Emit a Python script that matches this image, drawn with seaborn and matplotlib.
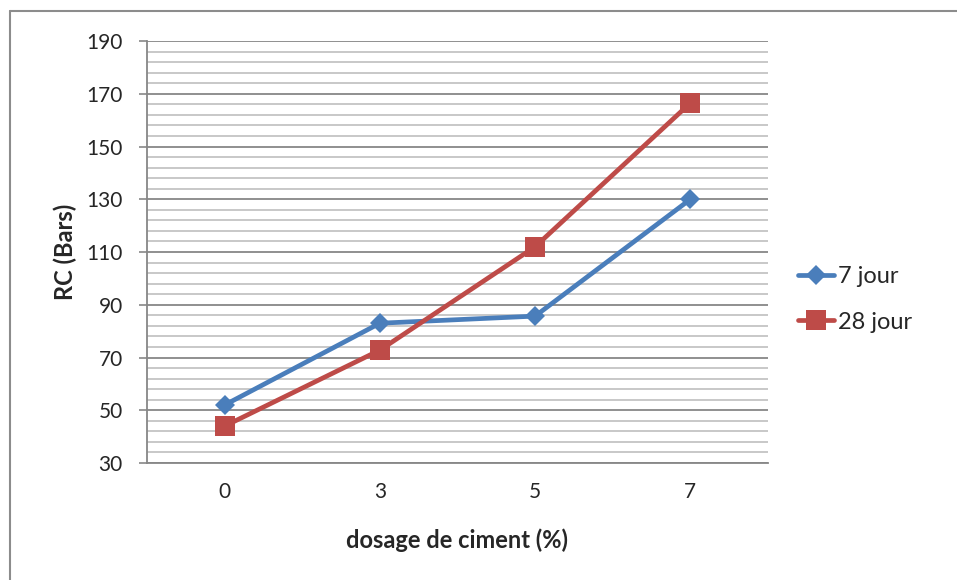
import matplotlib
matplotlib.use("Agg")
import matplotlib.pyplot as plt
import seaborn as sns
import pandas as pd
import numpy as np
from matplotlib.lines import Line2D

categories = ["0", "3", "5", "7"]
jour7 = [52, 83, 85.7, 130]
jour28 = [44, 72.8, 112, 166.5]
series_names = ["7 jour", "28 jour"]
y_ticks = [30, 50, 70, 90, 110, 130, 150, 170, 190]

sns.set_theme(style="white")
plt.rcParams['font.family'] = ['Lato', 'DejaVu Sans']

df = pd.DataFrame({
    "pos": list(range(len(categories))) * 2,
    "value": jour7 + jour28,
    "serie": [series_names[0]] * 4 + [series_names[1]] * 4,
})

fig = plt.figure(figsize=(9.57, 5.8), dpi=100)
ax = fig.add_axes([0.1536, 0.2017, 0.8025 - 0.1536, 0.9293 - 0.2017])

# gridlines
for v in np.arange(30, 190.1, 4):
    major = (v - 30) % 20 == 0
    ax.axhline(v, color="#878787" if major else "#BFBFBF", lw=1.3 if major else 1.2, zorder=0)

colors = {"7 jour": "#4A7EBB", "28 jour": "#BE4B48"}
markers = {"7 jour": "D", "28 jour": "s"}
sizes = {"7 jour": 10.5, "28 jour": 14}
for name in series_names:
    sub = df[df.serie == name]
    sns.lineplot(data=sub, x="pos", y="value", ax=ax, color=colors[name], lw=3.4,
                 marker=markers[name], markersize=sizes[name], markeredgewidth=0,
                 legend=False, zorder=3)

ax.set_xlim(-0.5, len(categories) - 0.5)
ax.set_ylim(30, 190)
ax.set_yticks(y_ticks)
ax.set_yticklabels([str(t) for t in y_ticks], fontsize=15)
ax.set_xticks(range(len(categories)))
ax.set_xticklabels(categories, fontsize=15)
ax.tick_params(axis="y", which="major", length=5.5, width=1.2, color="#878787", left=True, pad=12)
ax.tick_params(axis="x", length=0, pad=14)
for s in ["top", "right"]:
    ax.spines[s].set_visible(False)
ax.spines["left"].set_color("#878787")
ax.spines["left"].set_linewidth(1.3)
ax.spines["bottom"].set_color("#878787")
ax.spines["bottom"].set_linewidth(1.3)

ax.set_xlabel("dosage de ciment (%)", fontsize=17, fontweight="bold", labelpad=19)
ax.set_ylabel("RC (Bars)", fontsize=17, fontweight="bold", labelpad=7)

handles = [Line2D([0], [0], color=colors[n], lw=3.4, marker=markers[n],
                  markersize=sizes[n], markeredgewidth=0) for n in series_names]
fig.legend(handles, series_names, loc="center left", bbox_to_anchor=(0.834, 0.484),
           frameon=False, fontsize=17, handlelength=1.5, handletextpad=0.2,
           labelspacing=1.05, borderaxespad=0, borderpad=0)

# chart border (top and left visible)
fig.add_artist(Line2D([10/957, 10/957], [0, 1 - 11/580], transform=fig.transFigure,
                      color="#8C8C8C", lw=1.5))
fig.add_artist(Line2D([10/957, 1], [1 - 11/580, 1 - 11/580], transform=fig.transFigure,
                      color="#8C8C8C", lw=1.5))

fig.savefig("out.png", dpi=100, facecolor="white")
